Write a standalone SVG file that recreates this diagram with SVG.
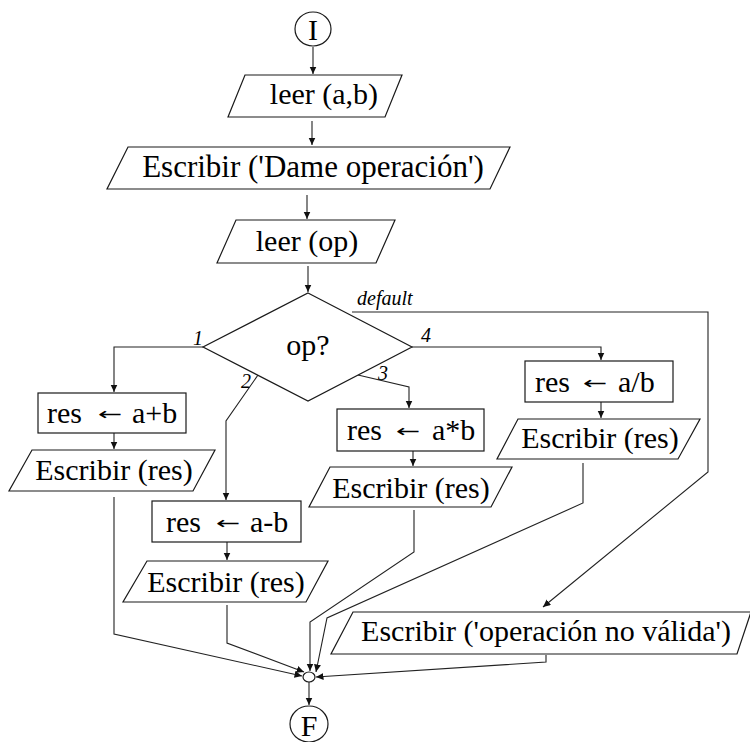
<svg xmlns="http://www.w3.org/2000/svg" width="750" height="742" viewBox="0 0 750 742">
<style>
.shape{fill:#fff;stroke:#1a1a1a;stroke-width:1.2}
.conn{fill:none;stroke:#222;stroke-width:1.1}
.t{font-family:"Liberation Serif","Times New Roman",serif;font-size:30px;fill:#000}
.m{text-anchor:middle}
.arr{font-family:"DejaVu Sans","Liberation Sans",sans-serif;font-size:29px;text-anchor:middle;fill:#000}
.lbl{font-family:"Liberation Serif","Times New Roman",serif;font-size:20px;font-style:italic;fill:#000}
</style>
<defs>
<marker id="ah" markerUnits="userSpaceOnUse" markerWidth="9" markerHeight="8" refX="7.5" refY="3.5" orient="auto">
<path d="M0,0 L7.5,3.5 L0,7 z" fill="#111"/>
</marker>
</defs>
<rect width="750" height="742" fill="#fff"/>

<g id="connectors">
<path class="conn" d="M313,47 L313,74" marker-end="url(#ah)"/>
<path class="conn" d="M312,121 L312,145" marker-end="url(#ah)"/>
<path class="conn" d="M307,195 L307,219" marker-end="url(#ah)"/>
<path class="conn" d="M308,266 L308,292" marker-end="url(#ah)"/>
<path class="conn" d="M203,347 L114,347 L114,392" marker-end="url(#ah)"/>
<path class="conn" d="M258,375 L226,421 L226,500" marker-end="url(#ah)"/>
<path class="conn" d="M358,375 L409,387 L409,408" marker-end="url(#ah)"/>
<path class="conn" d="M412,347 L601,347 L601,360" marker-end="url(#ah)"/>
<path class="conn" d="M352,312 L708,312 L708,472 L543,607" marker-end="url(#ah)"/>
<path class="conn" d="M114,433 L114,449" marker-end="url(#ah)"/>
<path class="conn" d="M227,542 L227,560" marker-end="url(#ah)"/>
<path class="conn" d="M413,451 L413,466" marker-end="url(#ah)"/>
<path class="conn" d="M601,402 L601,418" marker-end="url(#ah)"/>
<path class="conn" d="M114,497 L114,634 L302,676" marker-end="url(#ah)"/>
<path class="conn" d="M227,605 L227,643 L304,672" marker-end="url(#ah)"/>
<path class="conn" d="M414,510 L414,552 L310,622 L310,671" marker-end="url(#ah)"/>
<path class="conn" d="M583,463 L583,503 L327,618 L316,672" marker-end="url(#ah)"/>
<path class="conn" d="M546,655 L546,662 L316,677" marker-end="url(#ah)"/>
<path class="conn" d="M309,682 L309,705" marker-end="url(#ah)"/>
<text class="lbl" x="198" y="345" text-anchor="middle">1</text>
<text class="lbl" x="246" y="388" text-anchor="middle">2</text>
<text class="lbl" x="383" y="380" text-anchor="middle">3</text>
<text class="lbl" x="426" y="342" text-anchor="middle">4</text>
<text class="lbl" x="357" y="305">default</text>
</g>

<g id="start">
<ellipse class="shape" cx="313" cy="29" rx="18" ry="17"/>
<text class="t m" x="313" y="40">I</text>
</g>
<g id="leer_ab">
<polygon class="shape" points="245,75 402,75 385,117 228,117"/>
<text class="t m" x="324" y="104">leer (a,b)</text>
</g>
<g id="escribir_dame">
<polygon class="shape" points="128,147 510,147 490,189 107,189"/>
<text class="t m" x="313" y="177" style="font-size:31px">Escribir ('Dame operación')</text>
</g>
<g id="leer_op">
<polygon class="shape" points="236,220 395,220 376,263 217,263"/>
<text class="t m" x="307" y="251">leer (op)</text>
</g>
<g id="decision">
<polygon class="shape" points="308,293 412,347 308,401 203,347"/>
<text class="t m" x="308" y="355">op?</text>
</g>
<g id="suma">
<rect class="shape" x="38" y="393" width="148" height="40"/>
<text class="t" x="47" y="423">res</text>
<text class="arr" transform="translate(110,415) scale(1,0.6)" x="0" y="8.7">←</text>
<text class="t" x="132" y="423">a+b</text>
</g>
<g id="escribir_suma">
<polygon class="shape" points="32,450 215,450 193,491 9,491"/>
<text class="t m" x="114" y="480">Escribir (res)</text>
</g>
<g id="resta">
<rect class="shape" x="152" y="501" width="149" height="41"/>
<text class="t" x="166" y="532">res</text>
<text class="arr" transform="translate(228,524) scale(1,0.6)" x="0" y="8.7">←</text>
<text class="t" x="250" y="532">a-b</text>
</g>
<g id="escribir_resta">
<polygon class="shape" points="147,561 328,561 306,602 123,602"/>
<text class="t m" x="226" y="592">Escribir (res)</text>
</g>
<g id="producto">
<rect class="shape" x="337" y="409" width="147" height="42"/>
<text class="t" x="347" y="440">res</text>
<text class="arr" transform="translate(408,432) scale(1,0.6)" x="0" y="8.7">←</text>
<text class="t" x="432" y="440">a*b</text>
</g>
<g id="escribir_producto">
<polygon class="shape" points="330,467 512,467 491,507 309,507"/>
<text class="t m" x="411" y="498">Escribir (res)</text>
</g>
<g id="division">
<rect class="shape" x="525" y="361" width="148" height="41"/>
<text class="t" x="535" y="392">res</text>
<text class="arr" transform="translate(595,384) scale(1,0.6)" x="0" y="8.7">←</text>
<text class="t" x="618" y="392">a/b</text>
</g>
<g id="escribir_division">
<polygon class="shape" points="518,419 700,419 678,459 497,459"/>
<text class="t m" x="600" y="448">Escribir (res)</text>
</g>
<g id="escribir_invalida">
<polygon class="shape" points="353,612 751,612 737,654 331,654"/>
<text class="t m" x="546" y="641">Escribir ('operación no válida')</text>
</g>
<g id="merge">
<ellipse class="shape" cx="309" cy="677" rx="6" ry="5"/>
</g>
<g id="end">
<ellipse class="shape" cx="309" cy="724" rx="19" ry="18"/>
<text class="t m" x="309" y="736">F</text>
</g>
</svg>
